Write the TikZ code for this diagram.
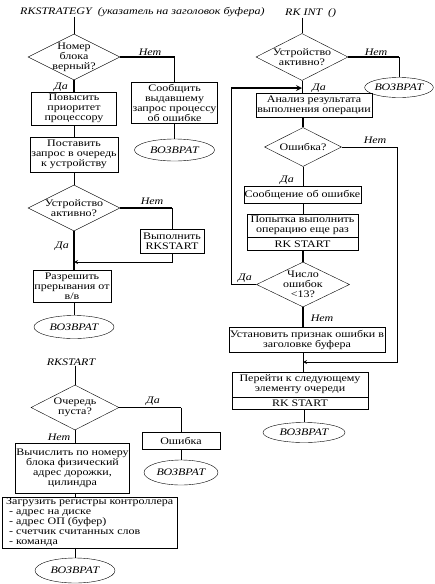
\documentclass[tikz,border=0pt]{standalone}
\usepackage{fontspec}
\setmainfont{Liberation Serif}[FakeStretch=1.2]
\usetikzlibrary{shapes.geometric}

\newcommand{\flowfont}{\fontsize{10}{10}\selectfont}
\tikzstyle{box} = [rectangle, draw=black, align=center, inner sep=1pt, font=\flowfont]
\tikzstyle{decision} = [diamond, draw=black, inner sep=0pt, font=\flowfont]
\tikzstyle{stop} = [ellipse, draw=black, inner sep=0pt, font=\flowfont\itshape]
\tikzstyle{lbl} = [inner sep=0pt, font=\flowfont\itshape]
\tikzstyle{line} = [draw=black, line width=0.8pt]
\tikzstyle{heavy} = [draw=black, line width=1.6pt]
\tikzstyle{arrow} = [->,>=stealth]

\begin{document}
\begin{tikzpicture}[x=1pt, y=-1pt]
\useasboundingbox (0,0) rectangle (434,584);

% RKSTRATEGY
\node (strat) [lbl, anchor=west] at (20,12) {RKSTRATEGY\ \ (указатель на заголовок буфера)};
\node (valid) [decision, minimum width=92pt, minimum height=46pt, label={[align=center, font=\flowfont]center:Номер\\блока\\верный?}] at (74,57) {};
\node (report) [box, minimum width=83pt, minimum height=41pt] at (174.5,102.5) {Сообщить\\выдавшему\\запрос процессу\\об ошибке};
\node (ret1) [stop, minimum width=80pt, minimum height=22pt] at (174.5,150) {ВОЗВРАТ};
\node (raise) [box, minimum width=85pt, minimum height=33pt] at (74,108.5) {Повысить\\приоритет\\процессору};
\node (queue) [box, minimum width=85pt, minimum height=35pt] at (74,154.5) {Поставить\\запрос в очередь\\к устройству};
\node (active) [decision, minimum width=92pt, minimum height=46pt, label={[align=center, font=\flowfont]center:Устройство\\активно?}] at (74,208) {};
\node (runstart) [box, minimum width=64pt, minimum height=24pt] at (172,241) {Выполнить\\RKSTART};
\node (enable) [box, minimum width=78pt, minimum height=32pt] at (72,286) {Разрешить\\прерывания от\\в/в};
\node (ret2) [stop, minimum width=80pt, minimum height=23pt] at (74,327) {ВОЗВРАТ};
\coordinate (joinL) at (74,262);

\node (no1) [lbl] at (150,52) {Нет};
\node (yes1) [lbl] at (61,87) {Да};
\node (no2) [lbl] at (152,201) {Нет};
\node (yes2) [lbl] at (62,246) {Да};

% RKSTART
\node (rkstart) [lbl] at (71,362) {RKSTART};
\node (empty) [decision, minimum width=88pt, minimum height=45pt, label={[align=center, font=\flowfont]center:Очередь\\пуста?}] at (75,407.5) {};
\node (error) [box, minimum width=78pt, minimum height=17pt] at (181,440.5) {Ошибка};
\node (ret3) [stop, minimum width=74pt, minimum height=25pt] at (181,472.5) {ВОЗВРАТ};
\node (compute) [box, minimum width=111pt, minimum height=50pt] at (72.5,468) {Вычислить по номеру\\блока физический\\адрес дорожки,\\цилиндра};
\node (load) [box, align=left, minimum width=175pt, minimum height=45pt, anchor=west] at (2,522.5) {Загрузить регистры контроллера\\\hspace*{3pt}- адрес на диске\\\hspace*{3pt}- адрес ОП (буфер)\\\hspace*{3pt}- счетчик считанных слов\\\hspace*{3pt}- команда};
\node (ret4) [stop, minimum width=80pt, minimum height=25pt] at (75,570.5) {ВОЗВРАТ};

\node (yes3) [lbl] at (153,401) {Да};
\node (no3) [lbl] at (59,437) {Нет};

% RK INT
\node (rkint) [lbl, anchor=west] at (285,13) {RK INT\ \ ()};
\node (devon) [decision, minimum width=92pt, minimum height=47pt, label={[align=center, font=\flowfont]center:Устройство\\активно?}] at (302,57) {};
\node (ret5) [stop, minimum width=68pt, minimum height=20pt] at (399,87.5) {ВОЗВРАТ};
\node (analyse) [box, minimum width=108pt, minimum height=24pt] at (314,105) {Анализ результата\\выполнения операции};
\node (fail) [decision, minimum width=77pt, minimum height=39pt, label={[font=\flowfont]center:Ошибка?}] at (303,147) {};
\node (msg) [box, minimum width=111pt, minimum height=17pt] at (302.5,194.5) {Сообщение об ошибке};
\node (retry) [box, minimum width=111pt, minimum height=23pt] at (302.5,225.5) {Попытка выполнить\\операцию еще раз};
\node (retrycall) [box, minimum width=111pt, minimum height=13pt, anchor=north] at (retry.south) {RK START};
\node (count) [decision, minimum width=93pt, minimum height=45pt, label={[align=center, font=\flowfont]center:Число\\ошибок\\<13?}] at (303,284.5) {};
\node (setflag) [box, minimum width=150pt, minimum height=25pt] at (307,339.5) {Установить признак ошибки в\\заголовке буфера};
\node (next) [box, minimum width=136pt, minimum height=25pt] at (300,384.5) {Перейти к следующему\\элементу очереди};
\node (nextcall) [box, minimum width=136pt, minimum height=12pt, anchor=north] at (next.south) {RK START};
\node (ret6) [stop, minimum width=82pt, minimum height=20pt] at (304,432.5) {ВОЗВРАТ};
\coordinate (joinT) at (302,88);
\coordinate (joinR) at (303,362);

\node (no4) [lbl] at (376,52) {Нет};
\node (yes4) [lbl] at (319,88) {Да};
\node (no5) [lbl] at (375,140) {Нет};
\node (yes5) [lbl] at (287,180) {Да};
\node (yes6) [lbl] at (245,278) {Да};
\node (no6) [lbl] at (322,318) {Нет};

% Arrows
\draw [line] (valid.north |- strat.south) -- (valid.north);
\draw [heavy] (valid.east) -| (report.north);
\draw [heavy] (valid.south) -- (raise.north);
\draw [line] (raise) -- (queue);
\draw [heavy] (report) -- (ret1);
\draw [line] (queue) -- (active);
\draw [heavy] (active.east) -- (active.east -| runstart.north);
\draw [line] (active.east -| runstart.north) -- (runstart.north);
\draw [heavy] (active.south) -- (active.south |- enable.north);
\draw [line, arrow] (runstart.south) |- (joinL);
\draw [line] (active.south |- enable.south) -- (ret2);

\draw [line] (empty.north |- rkstart.south) -- (empty.north);
\draw [heavy] (empty.east) -- (empty.east -| error.north);
\draw [line] (empty.east -| error.north) -- (error.north);
\draw [line] (error) -- (ret3);
\draw [line] (empty.south) -- (empty.south |- compute.north);
\draw [line] (empty.south |- compute.south) -- (empty.south |- load.north);
\draw [line] (ret4.north |- load.south) -- (ret4.north);

\draw [line] (devon.north |- rkint.south) -- (devon.north);
\draw [heavy] (devon.east) -- (devon.east -| ret5.north);
\draw [line] (devon.east -| ret5.north) -- (ret5.north);
\draw [line] (devon.south) -- (devon.south |- analyse.north);
\draw [heavy] (fail.north |- analyse.south) -- (fail.north);
\draw [line, arrow] (fail.east) -- ++(56,0) |- (joinR);
\draw [line] (fail.south) -- (fail.south |- msg.north);
\draw [line] (fail.south |- msg.south) -- (fail.south |- retry.north);
\draw [heavy] (count.north |- retrycall.south) -- (count.north);
\draw [heavy, arrow] (count.west) -- ++(-25,0) |- (joinT);
\draw [heavy] (count.south) -- (count.south |- setflag.north);
\draw [line] (count.south |- setflag.south) -- (count.south |- next.north);
\draw [line] (ret6.north |- nextcall.south) -- (ret6.north);

\end{tikzpicture}
\end{document}
